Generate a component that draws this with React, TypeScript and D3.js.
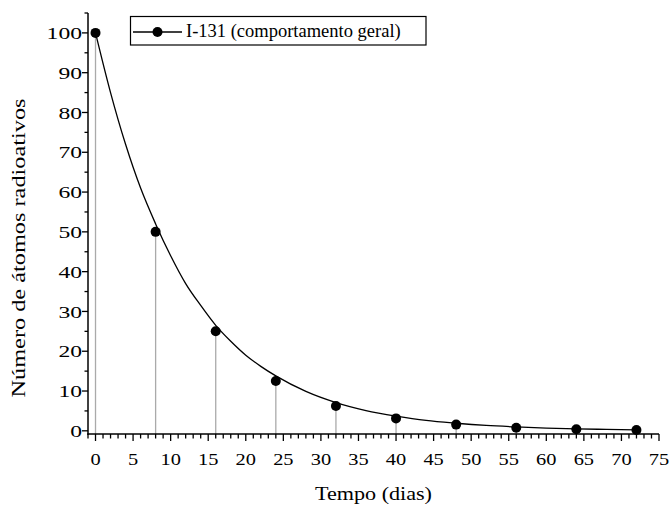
import React from "react";
import * as d3 from "d3";

// Measured data points (dias, número de átomos)
const pointX = [0, 8, 16, 24, 32, 40, 48, 56, 64, 72];
const pointY = [100, 50, 25, 12.5, 6.25, 3.125, 1.5625, 0.78125, 0.390625, 0.1953125];

// Curve (fitted decay line)
const curveX = [0, 2, 4, 6, 8, 10, 12, 14, 16, 18, 20, 22, 24, 28, 32, 36, 40, 44, 48, 52, 56, 60, 64, 68, 72];
const curveY = [100, 85, 72, 61, 52, 44, 37, 31.5, 26.5, 22.5, 19, 16.2, 13.8, 9.9, 7.1, 5.1, 3.7, 2.6, 1.9, 1.35, 0.98, 0.7, 0.5, 0.36, 0.26];

const xMajorTicks = [0, 5, 10, 15, 20, 25, 30, 35, 40, 45, 50, 55, 60, 65, 70, 75];
const yMajorTicks = [0, 10, 20, 30, 40, 50, 60, 70, 80, 90, 100];

const seriesName = "I-131 (comportamento geral)";
const xTitle = "Tempo (dias)";
const yTitle = "Número de átomos radioativos";

const W = 670;
const H = 505;
const FONT = "'Liberation Serif', 'Times New Roman', serif";

export default function App() {
  const x = d3.scaleLinear().domain([-1, 75]).range([88, 659]);
  const y = d3.scaleLinear().domain([-0.8, 105]).range([434, 13]);

  const xMinor = d3.range(-1, 76, 1).filter((v) => v % 5 !== 0);
  const yMinor = d3.range(5, 106, 10);

  const line = d3
    .line<number>()
    .x((_, i) => x(curveX[i]))
    .y((d) => y(d))
    .curve(d3.curveMonotoneX);

  const x0 = x.range()[0];
  const yb = y.range()[0];

  return (
    <svg
      width={W}
      height={H}
      style={{ position: "absolute", left: 0, top: 0, background: "#fff" }}
      fontFamily={FONT}
    >
      {/* drop lines */}
      {pointX.map((px, i) => (
        <line
          key={"d" + i}
          x1={x(px)}
          x2={x(px)}
          y1={y(pointY[i])}
          y2={yb}
          stroke="#aaaaaa"
          strokeWidth={1.3}
        />
      ))}
      {/* curve */}
      <path d={line(curveY) || ""} fill="none" stroke="#000" strokeWidth={1.3} />
      {/* points */}
      {pointX.map((px, i) => (
        <circle key={"p" + i} cx={x(px)} cy={y(pointY[i])} r={5} fill="#000" />
      ))}

      {/* axes */}
      <line x1={x0} x2={x0} y1={y.range()[1]} y2={yb + 0.75} stroke="#000" strokeWidth={1.5} />
      <line x1={x0 - 0.75} x2={x.range()[1]} y1={yb} y2={yb} stroke="#000" strokeWidth={1.5} />

      {/* y ticks */}
      {yMajorTicks.map((t) => (
        <g key={"ym" + t}>
          <line x1={x0 - 6} x2={x0} y1={y(t)} y2={y(t)} stroke="#000" strokeWidth={1.3} />
          <text
            x={x0 - 6}
            y={y(t)}
            dy="0.36em"
            textAnchor="end"
            fontSize={17}
            textLength={String(t).length * 11.8}
            lengthAdjust="spacingAndGlyphs"
          >
            {t}
          </text>
        </g>
      ))}
      {yMinor.map((t) => (
        <line key={"yn" + t} x1={x0 - 3.5} x2={x0} y1={y(t)} y2={y(t)} stroke="#000" strokeWidth={1.3} />
      ))}

      {/* x ticks */}
      {xMajorTicks.map((t) => (
        <g key={"xm" + t}>
          <line x1={x(t)} x2={x(t)} y1={yb} y2={yb + 7} stroke="#000" strokeWidth={1.3} />
          <text
            x={x(t)}
            y={465}
            textAnchor="middle"
            fontSize={17.5}
            textLength={String(t).length * 10.2}
            lengthAdjust="spacingAndGlyphs"
          >
            {t}
          </text>
        </g>
      ))}
      {xMinor.map((t) => (
        <line key={"xn" + t} x1={x(t)} x2={x(t)} y1={yb} y2={yb + 4.5} stroke="#000" strokeWidth={1.3} />
      ))}

      {/* axis titles */}
      <text
        x={(x.range()[0] + x.range()[1]) / 2}
        y={500}
        textAnchor="middle"
        fontSize={19}
        textLength={117}
        lengthAdjust="spacingAndGlyphs"
      >
        {xTitle}
      </text>
      <text
        transform="translate(25,248) rotate(-90)"
        textAnchor="middle"
        fontSize={18.5}
        textLength={299}
        lengthAdjust="spacingAndGlyphs"
      >
        {yTitle}
      </text>

      {/* legend */}
      <rect x={130.5} y={16.5} width={295.5} height={28.5} fill="#fff" stroke="#000" strokeWidth={1.2} />
      <line x1={133} x2={182} y1={32} y2={32} stroke="#000" strokeWidth={1.3} />
      <circle cx={157.5} cy={32} r={5} fill="#000" />
      <text x={186} y={36.5} fontSize={18.5}>
        {seriesName}
      </text>
    </svg>
  );
}
